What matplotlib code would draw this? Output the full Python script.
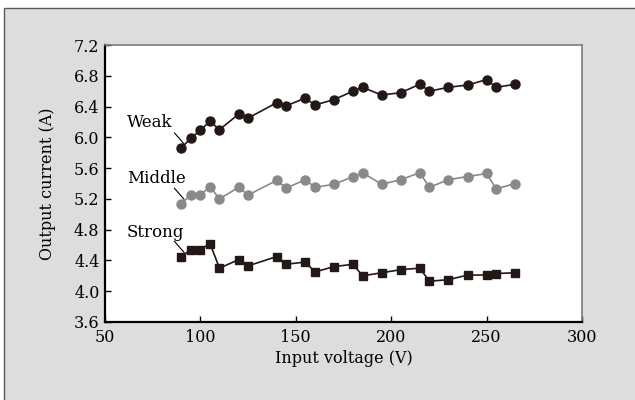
import matplotlib
matplotlib.use("Agg")
import matplotlib.pyplot as plt
from matplotlib.patches import Rectangle
from matplotlib.transforms import offset_copy

# input voltage (V), same for all three series
voltage = [90, 95, 100, 105, 110, 120, 125, 140, 145, 155, 160, 170,
           180, 185, 195, 205, 215, 220, 230, 240, 250, 255, 265]

weak = [5.86, 5.99, 6.09, 6.21, 6.10, 6.30, 6.25, 6.45, 6.41, 6.51, 6.42, 6.49,
        6.60, 6.65, 6.55, 6.58, 6.69, 6.60, 6.65, 6.68, 6.75, 6.65, 6.69]
middle = [5.14, 5.25, 5.25, 5.36, 5.20, 5.35, 5.25, 5.44, 5.34, 5.45, 5.35, 5.39,
          5.49, 5.54, 5.39, 5.45, 5.54, 5.35, 5.45, 5.49, 5.53, 5.33, 5.40]
strong = [4.45, 4.54, 4.54, 4.62, 4.30, 4.41, 4.33, 4.45, 4.35, 4.38, 4.25, 4.32,
          4.35, 4.20, 4.24, 4.28, 4.30, 4.13, 4.15, 4.21, 4.21, 4.23, 4.24]

labels = ["Weak", "Middle", "Strong"]
label_pos = [(61.5, 6.13), (61.5, 5.41), (61.5, 4.71)]

xticks = [50, 100, 150, 200, 250, 300]
yticks = [3.6, 4.0, 4.4, 4.8, 5.2, 5.6, 6.0, 6.4, 6.8, 7.2]

dark = "#231815"
grey = "#898989"
plt.rcParams['font.family'] = ['DejaVu Serif']

fig = plt.figure(figsize=(6.35, 4.0), dpi=100)
fig.patch.set_facecolor("white")
bg = Rectangle((4 / 635, -0.1), 1.2, 0.98 + 0.1, transform=fig.transFigure,
               facecolor="#dcdddc", edgecolor="#5a5a5a", lw=1.0, zorder=-5)
fig.add_artist(bg)

ax = fig.add_axes([105 / 635, 1 - 322 / 400, (582 - 105) / 635, (322 - 45) / 400])
ax.set_zorder(1)
ax.set_facecolor("white")

ax.plot(voltage, weak, "-o", color=dark, lw=1.2, ms=6.5, zorder=3)
ax.plot(voltage, middle, "-o", color=grey, lw=1.2, ms=6.5, zorder=3)
ax.plot(voltage, strong, "-s", color=dark, lw=1.2, ms=5.3, zorder=3)

# leader lines from the labels to the first point of each series
start = offset_copy(ax.transData, fig=fig, x=-5, y=11, units="points")
end = offset_copy(ax.transData, fig=fig, x=2, y=3, units="points")
for name, pos, ys in zip(labels, label_pos, [weak, middle, strong]):
    ax.text(pos[0], pos[1], name, fontsize=12, va="baseline", ha="left", color="black")
    ax.annotate("", xy=(voltage[0], ys[0]), xycoords=end,
                xytext=(voltage[0], ys[0]), textcoords=start,
                arrowprops=dict(arrowstyle="-", lw=0.8, color="black",
                                shrinkA=0, shrinkB=0), zorder=2)

ax.set_xlim(50, 300)
ax.set_ylim(3.6, 7.2)
ax.set_xticks(xticks)
ax.set_yticks(yticks)
ax.set_yticklabels([f"{v:.1f}" for v in yticks])
ax.tick_params(direction="in", length=4, width=1, labelsize=11.5, colors="black")
ax.tick_params(axis="y", pad=4)
ax.tick_params(axis="x", pad=5)

for s in ["left", "bottom"]:
    ax.spines[s].set_linewidth(1.6)
    ax.spines[s].set_color("black")
for s in ["top", "right"]:
    ax.spines[s].set_linewidth(1.2)
    ax.spines[s].set_color("#7d7d7d")

ax.set_xlabel("Input voltage (V)", fontsize=11.5, labelpad=3)
ax.set_ylabel("Output current (A)", fontsize=11.5, labelpad=13)

fig.savefig("out.png", dpi=100)
